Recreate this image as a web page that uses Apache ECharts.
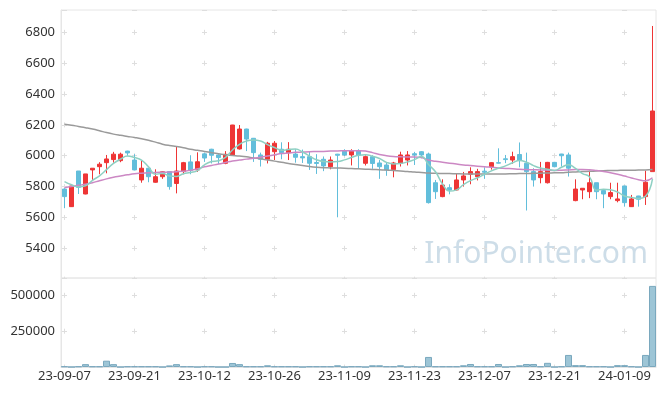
<!DOCTYPE html>
<html>
<head>
<meta charset="utf-8">
<script src="https://cdn.jsdelivr.net/npm/echarts@6/dist/echarts.min.js"></script>
<style>
html,body{margin:0;padding:0;background:#fff;}
#chart{width:665px;height:396px;}
</style>
</head>
<body>
<div id="chart"></div>
<script>
var dates = ['23-09-07','23-09-08','23-09-11','23-09-12','23-09-13','23-09-14','23-09-15','23-09-18','23-09-19','23-09-20',
'23-09-21','23-09-22','23-09-25','23-09-26','23-09-27','23-10-04','23-10-05','23-10-06','23-10-10','23-10-11',
'23-10-12','23-10-13','23-10-16','23-10-17','23-10-18','23-10-19','23-10-20','23-10-23','23-10-24','23-10-25',
'23-10-26','23-10-27','23-10-30','23-10-31','23-11-01','23-11-02','23-11-03','23-11-06','23-11-07','23-11-08',
'23-11-09','23-11-10','23-11-13','23-11-14','23-11-15','23-11-16','23-11-17','23-11-20','23-11-21','23-11-22',
'23-11-23','23-11-24','23-11-27','23-11-28','23-11-29','23-11-30','23-12-01','23-12-04','23-12-05','23-12-06',
'23-12-07','23-12-08','23-12-11','23-12-12','23-12-13','23-12-14','23-12-15','23-12-18','23-12-19','23-12-20',
'23-12-21','23-12-22','23-12-26','23-12-27','23-12-28','24-01-02','24-01-03','24-01-04','24-01-05','24-01-08',
'24-01-09','24-01-10','24-01-11','24-01-12','24-01-15'];

var opens  = [5784,5670,5901,5752,5908,5929,5955,5975,5968,6030,5972,5843,5919,5828,5864,5897,5820,5897,5960,5908,
6012,6042,6005,5951,6005,6044,6173,6113,6005,5977,6026,6042,6020,6011,5994,5994,5956,5977,5929,6010,
6030,6005,6030,5951,5994,5953,5940,5910,5951,5972,6013,6026,6011,5825,5735,5793,5778,5843,5880,5864,
5900,5929,5955,5980,5972,6008,5951,5897,5858,5825,5957,6011,6005,5709,5778,5767,5825,5774,5735,5709,
5804,5670,5739,5735,5897];
var closes = [5735,5804,5795,5882,5919,5945,5979,6010,6010,6018,5908,5919,5864,5864,5896,5800,5901,5955,5905,5961,
5985,6003,5988,6009,6199,6173,6108,6020,5977,6081,6081,6020,6042,5990,5986,5951,5950,5934,5972,6003,
6005,6030,6005,5994,5950,5929,5908,5953,6005,6005,6005,6005,5696,5767,5810,5778,5843,5869,5897,5897,
5893,5955,5952,5975,5994,5970,5897,5843,5897,5957,5929,6000,5919,5784,5789,5825,5767,5752,5761,5720,
5696,5720,5718,5828,6290];
var lows   = [5660,5668,5752,5750,5843,5880,5886,5955,5958,6000,5905,5825,5828,5825,5850,5780,5756,5880,5880,5895,
5960,5950,5945,5945,6000,6040,6030,5960,5930,5950,5972,5977,5972,5955,5953,5908,5882,5900,5912,5601,
5998,5937,5915,5937,5915,5850,5870,5860,5930,5937,5940,5983,5690,5720,5731,5750,5775,5800,5815,5840,
5850,5910,5950,5952,5948,5925,5645,5800,5821,5820,5925,5930,5865,5705,5718,5725,5718,5660,5718,5698,
5670,5668,5670,5681,5897];
var highs  = [5790,5805,5901,5882,5920,5958,6005,6025,6020,6032,6010,5968,5920,5912,5900,5900,6060,5960,6003,6022,
6020,6045,6010,6030,6200,6199,6175,6115,6020,6090,6095,6087,6088,6042,6040,6030,6010,5995,5995,6012,
6042,6042,6042,6002,6003,5972,5955,5960,6026,6030,6025,6030,6020,5843,5847,5815,5886,5895,5925,5915,
5925,5958,6048,6005,6026,6086,6020,5919,5960,5960,5960,6012,6020,5847,5790,5903,5825,5775,5825,5825,
5805,5746,5740,5903,6841];

var ma5  = [5832,5812,5798,5805,5840,5870,5910,5950,5978,5998,5988,5972,5928,5880,5885,5869,5866,5883,5891,5904,
5941,5962,5968,5989,6037,6074,6095,6102,6095,6072,6053,6036,6040,6043,6024,5998,5974,5962,5959,5962,
5973,5989,6003,6007,5997,5982,5957,5947,5949,5960,5975,5995,5943,5896,5817,5771,5779,5813,5839,5857,
5880,5902,5919,5934,5954,5969,5958,5936,5920,5913,5905,5925,5941,5918,5884,5863,5777,5783,5779,5765,
5739,5730,5723,5737,5850];
var ma20 = [5793,5800,5808,5815,5825,5838,5850,5860,5868,5876,5883,5887,5890,5892,5893,5894,5896,5900,5905,5915,
5928,5937,5946,5956,5966,5972,5978,5983,5990,5998,6006,6014,6018,6022,6024,6026,6027,6028,6030,6031,
6032,6033,6033,6030,6020,6008,6000,5995,5993,5992,5992,5988,5972,5964,5958,5952,5946,5940,5936,5932,
5929,5925,5921,5918,5915,5912,5910,5909,5908,5906,5905,5906,5908,5910,5911,5909,5904,5898,5890,5880,
5868,5856,5845,5838,5857];
var ma60 = [6204,6198,6190,6182,6173,6162,6150,6140,6132,6125,6118,6110,6100,6088,6075,6066,6060,6052,6042,6035,
6028,6020,6013,6006,6002,5998,5993,5986,5980,5972,5965,5957,5950,5943,5937,5930,5925,5922,5921,5920,
5919,5917,5915,5913,5911,5909,5907,5904,5901,5898,5894,5891,5888,5886,5885,5884,5883,5882,5882,5881,
5881,5881,5882,5882,5883,5884,5885,5886,5887,5888,5889,5890,5893,5895,5897,5899,5901,5903,5904,5905,
5906,5906,5907,5907,5910];

var volumes = [4000,0,4000,20000,4000,4000,44000,20000,0,4000,4000,4000,4000,4000,0,11000,20000,4000,4000,0,
4000,4000,0,0,28000,20000,4000,4000,4000,12000,4000,4000,4000,4000,0,4000,4000,4000,4000,12000,
0,4000,4000,0,12000,12000,4000,4000,12000,0,4000,0,70000,4000,4000,4000,4000,12000,21000,4000,
4000,4000,21000,0,4000,12000,21000,21000,4000,29000,0,4000,84000,13000,13000,4000,4000,4000,0,13000,
13000,4000,0,84000,565000];

var priceTicks = [5400,5600,5800,6000,6200,6400,6600,6800];
var volumeTicks = [250000,500000];
var watermark = 'InfoPointer.com';

var candleData = dates.map(function(d, i){ return [opens[i], closes[i], lows[i], highs[i]]; });

var chart = echarts.init(document.getElementById('chart'), null, {renderer:'canvas'});
var FONT = '"Noto Sans", "DejaVu Sans", sans-serif';
var gridColor = '#e6e6e6';
var plusColor = '#dedede';

chart.setOption({
  animation: false,
  backgroundColor: '#ffffff',
  textStyle: {fontFamily: FONT},
  graphic: [{
    type: 'text', right: 17, top: 239, z: 0,
    style: {text: watermark, font: '30px ' + FONT, fill: 'rgba(155,188,210,0.5)'}
  }],
  grid: [
    {left: 61, right: 9, top: 10, height: 268, show: true, borderColor: gridColor, borderWidth: 1},
    {left: 61, right: 9, top: 278, height: 89, show: true, borderColor: gridColor, borderWidth: 1}
  ],
  xAxis: [
    {type: 'category', gridIndex: 0, data: dates, boundaryGap: true,
     axisLine: {show: false}, axisTick: {show: false}, axisLabel: {show: false},
     splitLine: {show: true, interval: 9, alignWithLabel: true,
       lineStyle: {color: plusColor, width: 1, type: [5, 25.86], dashOffset: 11.06}}},
    {type: 'category', gridIndex: 1, data: dates, boundaryGap: true,
     axisLine: {show: true, lineStyle: {color: gridColor}}, axisTick: {show: false},
     axisLabel: {interval: 9, color: '#333', fontSize: 13, margin: 3, fontFamily: FONT},
     splitLine: {show: true, interval: 9, alignWithLabel: true,
       lineStyle: {color: plusColor, width: 1, type: [5, 30.89], dashOffset: 21.09}}}
  ],
  yAxis: [
    {type: 'value', gridIndex: 0, min: 5207.5, max: 6944.5, splitNumber: 8, scale: true,
     axisLine: {show: true, lineStyle: {color: gridColor}}, axisTick: {show: false},
     axisLabel: {color: '#333', fontSize: 13, margin: 6, fontFamily: FONT,
       formatter: function(v){ return priceTicks.indexOf(Math.round(v)) >= 0 && Math.abs(v - Math.round(v)) < 1e-6 ? String(v) : ''; }},
     splitLine: {show: true, lineStyle: {color: plusColor, width: 1, type: [5, 65], dashOffset: 69}}},
    {type: 'value', gridIndex: 1, min: 0, max: 620000, interval: 250000,
     axisLine: {show: true, lineStyle: {color: gridColor}}, axisTick: {show: false},
     axisLabel: {color: '#333', fontSize: 13, margin: 6, fontFamily: FONT,
       formatter: function(v){ return volumeTicks.indexOf(v) >= 0 ? String(v) : ''; }},
     splitLine: {show: true, lineStyle: {color: plusColor, width: 1, type: [5, 65], dashOffset: 69}}}
  ],
  series: [
    {type: 'candlestick', xAxisIndex: 0, yAxisIndex: 0, data: candleData, barWidth: 5,
     itemStyle: {color: '#ee3535', color0: '#62bedb', borderColor: '#ee3535', borderColor0: '#62bedb', borderWidth: 1}},
    {type: 'line', xAxisIndex: 0, yAxisIndex: 0, data: ma60, smooth: true, showSymbol: false,
     lineStyle: {color: '#9a9a9a', width: 1.5}},
    {type: 'line', xAxisIndex: 0, yAxisIndex: 0, data: ma20, smooth: true, showSymbol: false,
     lineStyle: {color: '#cc88c4', width: 1.5}},
    {type: 'line', xAxisIndex: 0, yAxisIndex: 0, data: ma5, smooth: true, showSymbol: false,
     lineStyle: {color: '#8ed0c3', width: 1.5}},
    {type: 'bar', xAxisIndex: 1, yAxisIndex: 1, data: volumes, barCategoryGap: '0%',
     itemStyle: {color: '#9dc5d6', borderColor: '#7aa8be', borderWidth: 1}}
  ]
});
</script>
</body>
</html>
